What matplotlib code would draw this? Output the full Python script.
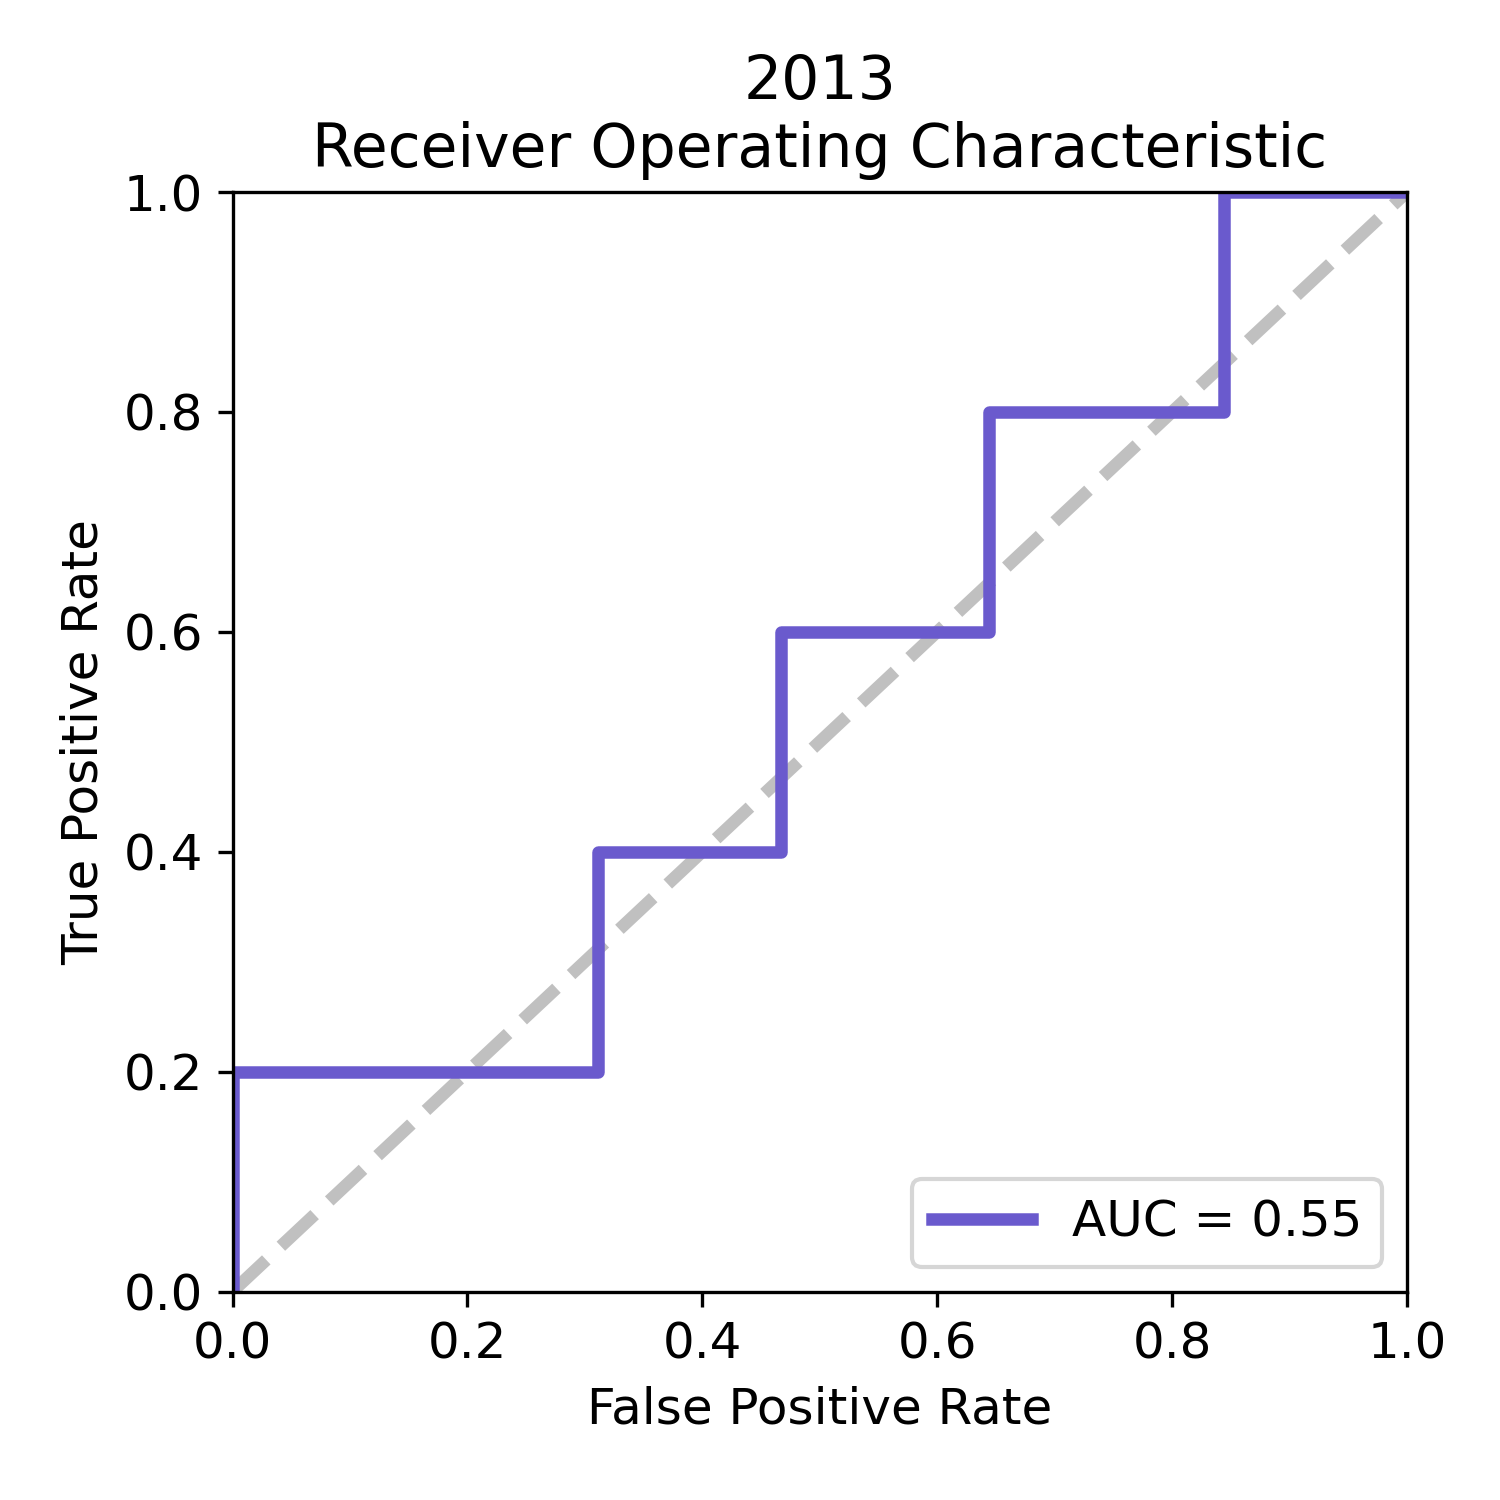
import numpy as np
import matplotlib

matplotlib.use('Agg')
from matplotlib import pyplot as plt

# ROC curve (45 negatives, 5 positives)
fpr = [0.0, 0.0, 0.311, 0.311, 0.467, 0.467, 0.644, 0.644, 0.844, 0.844, 1.0]
tpr = [0.0, 0.2, 0.2, 0.4, 0.4, 0.6, 0.6, 0.8, 0.8, 1.0, 1.0]
roc_auc = 0.55
year = '2013'

plt.rcParams['font.size'] = 12

fig = plt.figure(figsize=(5, 5), dpi=300)
ax = fig.add_subplot(111)
fig.subplots_adjust(left=0.155, right=0.938, bottom=0.139, top=0.872)

ax.plot([0, 1], [0, 1], linestyle='--', lw=3, color='silver')
ax.plot(fpr, tpr, color='slateblue', lw=3, label='AUC = %0.2f' % roc_auc)
ax.set_xlim([0.0, 1.0])
ax.set_ylim([0.0, 1.0])
ax.set_xlabel('False Positive Rate')
ax.set_ylabel('True Positive Rate')
ax.set_title(year + '\nReceiver Operating Characteristic')
ax.legend(loc='lower right')

plt.savefig('out.png', dpi=300)
plt.close()
